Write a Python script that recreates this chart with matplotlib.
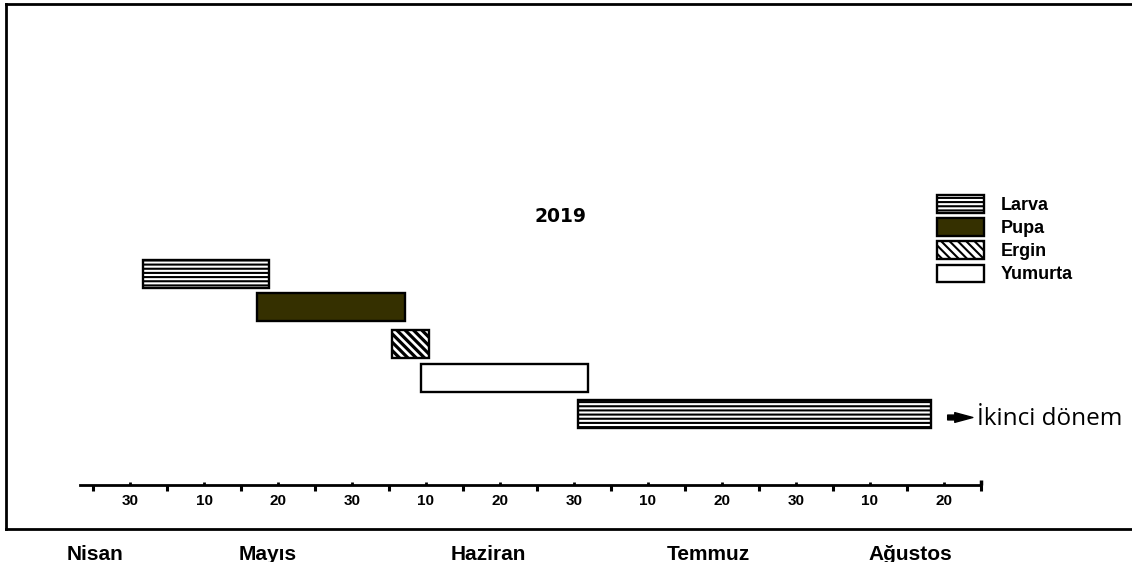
import matplotlib
matplotlib.use("Agg")
import matplotlib.pyplot as plt
import matplotlib.ticker as mticker
from matplotlib.patches import Patch
from matplotlib.lines import Line2D

plt.rcParams['font.family'] = ['Liberation Sans', 'DejaVu Sans']
plt.rcParams['hatch.linewidth'] = 1.5

# schematic day axis: 10 = 30 Nisan, 20 = 10 Mayis, ... 120 = 20 Agustos
stages = ['Larva', 'Pupa', 'Ergin', 'Yumurta', 'Larva']
starts = [11.8, 27.2, 45.4, 49.3, 70.5]
ends = [28.8, 47.2, 50.4, 71.9, 118.2]
lanes = [0, 0.95, 2.0, 2.96, 4.0]

tick_days = [10, 20, 30, 40, 50, 60, 70, 80, 90, 100, 110, 120]
tick_labels = ['30', '10', '20', '30', '10', '20', '30', '10', '20', '30', '10', '20']
months = ['Nisan', 'Mayıs', 'Haziran', 'Temmuz', 'Ağustos']
month_pos = [5.3, 28.6, 58.4, 88.1, 115.4]

styles = {
    'Larva': dict(color='white', hatch='----', hlw=1.5),
    'Pupa': dict(color='#353000', hatch=None, hlw=1.5),
    'Ergin': dict(color='white', hatch='\\\\\\\\', hlw=2.3),
    'Yumurta': dict(color='white', hatch=None, hlw=1.5),
}

fig = plt.figure(figsize=(11.32, 5.62), dpi=100)
ax = fig.add_axes([0, 0, 1, 1])
ax.set_xlim(-7.57, 145.41)
ax.set_ylim(8.229, -7.829)

for name, s, e, y in zip(stages, starts, ends, lanes):
    st = styles[name]
    with plt.rc_context({'hatch.linewidth': st['hlw']}):
        ax.barh(y, e - s, left=s, height=0.8, color=st['color'], hatch=st['hatch'],
                edgecolor='black', linewidth=1.7)

# timeline axis
axis_y = 6.029
for side in ['top', 'left', 'right']:
    ax.spines[side].set_visible(False)
ax.spines['bottom'].set_position(('data', axis_y))
ax.spines['bottom'].set_bounds(3.2, 125)
ax.spines['bottom'].set_linewidth(2)
ax.set_yticks([])
ax.xaxis.set_major_locator(mticker.FixedLocator(range(5, 126, 10)))
ax.xaxis.set_major_formatter(mticker.NullFormatter())
ax.set_xticks(tick_days, tick_labels, minor=True)
ax.tick_params(axis='x', which='major', direction='out', length=4, width=2.2)
ax.tick_params(axis='x', which='minor', direction='in', length=2.5, width=2,
               pad=6.5, labelsize=11)
for lab in ax.get_xticklabels(minor=True):
    lab.set_fontweight('bold')
ax.vlines(125, axis_y - 0.15, axis_y, color='black', lw=2.5)

for m, p in zip(months, month_pos):
    ax.text(p, 8.17, m, ha='center', va='baseline', fontsize=15, fontweight='bold')

ax.text(68.2, -1.63, '2019', ha='center', va='center', fontsize=13.5,
        fontweight='bold', family=['DejaVu Sans'])

# arrow + note
ax.annotate('', xy=(123.9, 4.1), xytext=(120.5, 4.1),
            arrowprops=dict(arrowstyle='simple,head_length=1.3,head_width=0.7,tail_width=0.35',
                            mutation_scale=10, color='black', shrinkA=0, shrinkB=0))
ax.text(124.5, 4.15, 'İkinci dönem', ha='left', va='center', fontsize=17.5,
        family=['Open Sans', 'DejaVu Sans'])

handles = []
for k in ['Larva', 'Pupa', 'Ergin', 'Yumurta']:
    st = styles[k]
    with plt.rc_context({'hatch.linewidth': st['hlw']}):
        handles.append(Patch(facecolor=st['color'], hatch=st['hatch'],
                             edgecolor='black', linewidth=1.7, label=k))
leg = ax.legend(handles=handles, loc='upper left',
                bbox_to_anchor=(937 / 1132, 1 - 195 / 562), frameon=False,
                borderpad=0, borderaxespad=0, handlelength=2.6, handleheight=1.12,
                handletextpad=0.95, labelspacing=0.236,
                prop=dict(size=13, weight='bold'))

# frame around the chart
lw = 2
fig.add_artist(Line2D([6 / 1132, 1], [1 - 4 / 562] * 2, color='black', lw=lw))
fig.add_artist(Line2D([6 / 1132] * 2, [1 - 4 / 562, 1 - 529 / 562], color='black', lw=lw))
fig.add_artist(Line2D([6 / 1132, 1], [1 - 529 / 562] * 2, color='black', lw=lw))

fig.savefig('out.png', dpi=100)
